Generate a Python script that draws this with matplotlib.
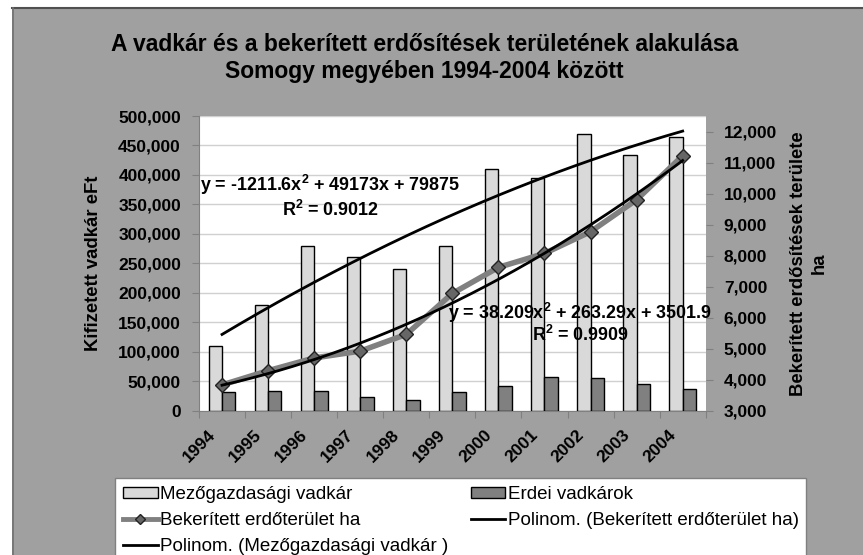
import matplotlib
matplotlib.use("Agg")
import matplotlib.pyplot as plt
import numpy as np
from matplotlib.patches import Rectangle, Patch
from matplotlib.lines import Line2D
from matplotlib.ticker import FuncFormatter, MultipleLocator
from matplotlib.transforms import ScaledTranslation, blended_transform_factory

years = ["1994", "1995", "1996", "1997", "1998", "1999", "2000", "2001", "2002", "2003", "2004"]
mezogazdasagi = [110000, 180000, 279000, 260000, 240000, 280000, 410000, 395000, 470000, 433000, 464000]
erdei = [32000, 34000, 33000, 24000, 19000, 32000, 42000, 57000, 55000, 45000, 36000]
bekeritett = [3830, 4290, 4700, 4920, 5460, 6780, 7620, 8070, 8770, 9800, 11220]

eq_mezo = "y = -1211.6x$^2$ + 49173x + 79875"
r2_mezo = "R$^2$ = 0.9012"
eq_bek = "y = 38.209x$^2$ + 263.29x + 3501.9"
r2_bek = "R$^2$ = 0.9909"

title_lines = ["A vadkár és a bekerített erdősítések területének alakulása",
               "Somogy megyében 1994-2004 között"]
left_label = "Kifizetett vadkár eFt"
right_label = "Bekerített erdősítések területe\nha"
legend_labels = ["Mezőgazdasági vadkár", "Erdei vadkárok", "Bekerített erdőterület ha",
                 "Polinom. (Bekerített erdőterület ha)", "Polinom. (Mezőgazdasági vadkár )"]

plt.rcParams['font.family'] = ['Liberation Sans', 'DejaVu Sans']
plt.rcParams['mathtext.fontset'] = 'custom'
plt.rcParams['mathtext.rm'] = 'Liberation Sans:bold'
plt.rcParams['mathtext.it'] = 'Liberation Sans:bold'
plt.rcParams['mathtext.bf'] = 'Liberation Sans:bold'

W, H = 863, 555
fig = plt.figure(figsize=(W / 100, H / 100), dpi=100)
fig.patch.set_facecolor("white")

GRAY = "#a0a0a0"
bg = Rectangle((12 / W, 0), 1 - 12 / W, 1 - 7 / H, transform=fig.transFigure,
               facecolor=GRAY, edgecolor="none", zorder=-10)
fig.add_artist(bg)
fig.add_artist(Line2D([12 / W, 1], [1 - 7.5 / H, 1 - 7.5 / H], transform=fig.transFigure,
                      color="#505050", lw=1.5, zorder=-9))
fig.add_artist(Line2D([12.5 / W, 12.5 / W], [0, 1 - 7.5 / H], transform=fig.transFigure,
                      color="#707070", lw=1.2, zorder=-9))

AX_L, AX_R, AX_T, AX_B = 199, 705.7, 116, 410.7
ax = fig.add_axes([AX_L / W, 1 - AX_B / H, (AX_R - AX_L) / W, (AX_B - AX_T) / H])
ax.set_facecolor("white")
x = np.arange(1, len(years) + 1)
bw = 0.29
ax.bar(x - bw / 2, mezogazdasagi, width=bw, color="#d9d9d9", edgecolor="black", lw=1, zorder=3)
ax.bar(x + bw / 2, erdei, width=bw, color="#808080", edgecolor="black", lw=1, zorder=3)
ax.set_xlim(0.5, len(years) + 0.5)
ax.set_ylim(0, 500000)
ax.yaxis.set_major_locator(MultipleLocator(50000))
ax.yaxis.set_major_formatter(FuncFormatter(lambda v, p: f"{int(v):,}"))
ax.grid(axis="y", color="#d0d0d0", lw=1, zorder=0)
ax.set_axisbelow(True)
for s in ["top", "right"]:
    ax.spines[s].set_visible(False)
ax.spines["left"].set_color("#808080")
ax.spines["bottom"].set_color("#808080")
ax.set_xticks(np.arange(0.5, len(years) + 1.5, 1))
ax.set_xticklabels([])
ax.tick_params(axis="x", which="major", length=5, color="#808080", direction="out")
ax.tick_params(axis="y", length=5, color="#808080", labelsize=12.5, pad=8)
for t in ax.get_yticklabels():
    t.set_fontweight("bold")

# rotated category labels
btr = blended_transform_factory(ax.transData, ax.transAxes)
off = ScaledTranslation(-9 / 100, -22 / 100, fig.dpi_scale_trans)
for xi, yr in zip(x, years):
    ax.text(xi, 0, yr, transform=btr + off, rotation=45, ha="right", va="center",
            rotation_mode="anchor", fontsize=12.5, fontweight="bold", clip_on=False)

ax.set_ylabel(left_label, fontsize=13.3, fontweight="bold")
ax.yaxis.set_label_coords((93 - AX_L) / (AX_R - AX_L), 0.5)
ax.yaxis.label.set_va("center")
ax.yaxis.label.set_ha("center")

# trend for mezőgazdasági
cm = np.polyfit(x, mezogazdasagi, 2)
xs = np.linspace(1, len(years), 200)
ax.plot(xs, np.polyval(cm, xs), color="black", lw=2, zorder=5)

ax2 = ax.twinx()
ax2.set_ylim(3000, 12500)
ax2.set_yticks(np.arange(3000, 12001, 1000))
ax2.yaxis.set_major_formatter(FuncFormatter(lambda v, p: f"{int(v):,}"))
for s in ["top", "left", "bottom", "right"]:
    ax2.spines[s].set_visible(False)
ax2.tick_params(axis="y", length=5, color="#808080", labelsize=12.5, pad=8)
for t in ax2.get_yticklabels():
    t.set_fontweight("bold")
ax2.plot(x, bekeritett, color="#808080", lw=4, marker="D", markersize=7,
         markerfacecolor="#666666", markeredgecolor="#222222", markeredgewidth=1, zorder=4)
cb = np.polyfit(x, bekeritett, 2)
ax2.plot(xs, np.polyval(cb, xs), color="black", lw=2, zorder=5)
ax2.set_ylabel(right_label, fontsize=13.3, fontweight="bold", linespacing=1.25, rotation=90)
ax2.yaxis.set_label_coords((809 - AX_L) / (AX_R - AX_L), 0.5)
ax2.yaxis.label.set_va("center")
ax2.yaxis.label.set_ha("center")

# equations
fig.text(200 / W, 1 - 185 / H, eq_mezo, fontsize=12.9, fontweight="bold", va="center", ha="left")
fig.text(330 / W, 1 - 210 / H, r2_mezo, fontsize=12.9, fontweight="bold", va="center", ha="center")
fig.text(448 / W, 1 - 313 / H, eq_bek, fontsize=12.9, fontweight="bold", va="center", ha="left")
fig.text(580 / W, 1 - 335 / H, r2_bek, fontsize=12.9, fontweight="bold", va="center", ha="center")

# title
fig.text(424.5 / W, 1 - 44.5 / H, title_lines[0], fontsize=16.5, fontweight="bold", ha="center", va="center")
fig.text(424.5 / W, 1 - 71.5 / H, title_lines[1], fontsize=16.5, fontweight="bold", ha="center", va="center")

# legend
h_mezo = Patch(facecolor="#d9d9d9", edgecolor="black", lw=1)
h_erdei = Patch(facecolor="#808080", edgecolor="black", lw=1)
h_bek = Line2D([], [], color="#808080", lw=3.5, marker="D", markersize=5.5,
               markerfacecolor="#666666", markeredgecolor="#222222")
h_pol = Line2D([], [], color="black", lw=2)
handles = [h_mezo, h_bek, h_pol, h_erdei, h_pol]
labels = [legend_labels[0], legend_labels[2], legend_labels[4], legend_labels[1], legend_labels[3]]
leg = fig.legend(handles, labels, ncol=2, loc="upper left",
                 bbox_to_anchor=(115 / W, 1 - 478 / H), fontsize=13.5,
                 frameon=True, fancybox=False, borderpad=0.42, handlelength=1.85,
                 handleheight=0.5, handletextpad=0.12, labelspacing=0.48, columnspacing=1.2,
                 borderaxespad=0, framealpha=1)
leg.get_frame().set_edgecolor("#808080")
leg.get_frame().set_facecolor("white")
leg.get_frame().set_linewidth(1)

fig.savefig("out.png", dpi=100)
